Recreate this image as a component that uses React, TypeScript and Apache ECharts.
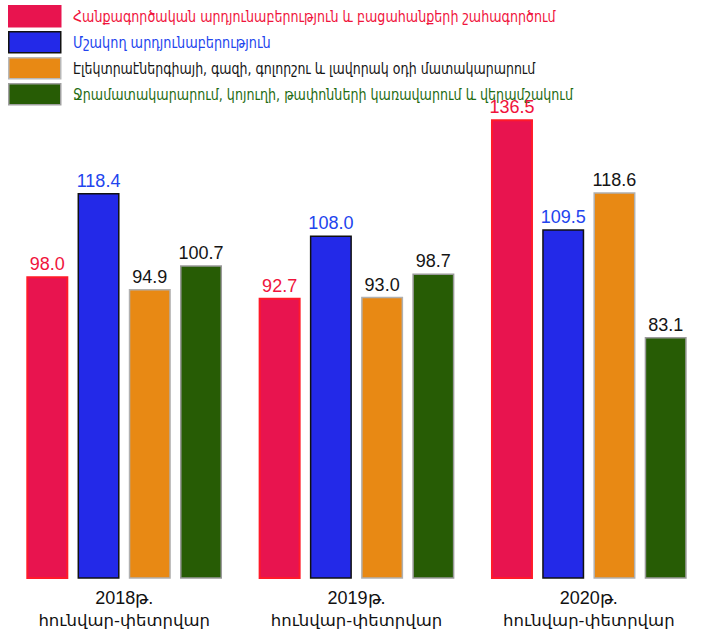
import React, { useEffect, useRef } from "react";
import * as echarts from "echarts";

const categories = ["2018թ.", "2019թ.", "2020թ."];
const periodLabel = "հունվար-փետրվար";

const seriesNames = [
  "Հանքագործական արդյունաբերություն և բացահանքերի շահագործում",
  "Մշակող արդյունաբերություն",
  "Էլեկտրաէներգիայի, գազի, գոլորշու և լավորակ օդի մատակարարում",
  "Ջրամատակարարում, կոյուղի, թափոնների կառավարում և վերամշակում",
];

const miningValues = [98.0, 92.7, 136.5];
const manufacturingValues = [118.4, 108.0, 109.5];
const electricityValues = [94.9, 93.0, 118.6];
const waterValues = [100.7, 98.7, 83.1];

const seriesValues = [miningValues, manufacturingValues, electricityValues, waterValues];

const fills = ["#E8144F", "#2329E8", "#E88914", "#275C05"];
const borders = ["#FF1A2A", "#111111", "#B0B0B0", "#9A9A9A"];
const legendBorders = ["#E8144F", "#111111", "#B8B8B8", "#A0A0A0"];
const labelColors = ["#F0143C", "#2244EE", "#151515", "#151515"];
const legendColors = ["#F0143C", "#2244EE", "#151515", "#1E6B12"];

// legend layout (target text widths)
const legendTextWidths = [483, 198, 463, 500];

const NUM_FONT = '"Liberation Sans", Arial, sans-serif';
const ARM_FONT = '"DejaVu Sans", sans-serif';
const LEGEND_FONT = "16px " + ARM_FONT;

function measure(text: string, font: string): number {
  const c = document.createElement("canvas").getContext("2d")!;
  c.font = font;
  return c.measureText(text).width;
}

export default function App() {
  const ref = useRef<HTMLDivElement>(null);
  useEffect(() => {
    document.body.style.margin = "0";
    const chart = echarts.init(ref.current!, null, { renderer: "svg" });
    const legendGraphics: any[] = [];
    seriesNames.forEach((name, i) => {
      const top = 5 + i * 26;
      legendGraphics.push({
        type: "rect",
        left: 8,
        top,
        shape: { width: 52, height: 21 },
        style: { fill: fills[i], stroke: legendBorders[i], lineWidth: 1.5 },
      });
      const w = measure(name, LEGEND_FONT);
      legendGraphics.push({
        type: "text",
        x: 73,
        y: top + 11,
        scaleX: legendTextWidths[i] / w,
        style: {
          text: name,
          fill: legendColors[i],
          font: LEGEND_FONT,
          verticalAlign: "middle",
        },
      });
    });
    chart.setOption({
      animation: false,
      backgroundColor: "#ffffff",
      graphic: legendGraphics,
      legend: { show: false },
      grid: { left: 8, width: 706, top: 105, bottom: 54 },
      xAxis: {
        type: "category",
        data: categories,
        axisLine: { show: false },
        axisTick: { show: false },
        axisLabel: {
          color: "#111111",
          margin: 9,
          formatter: (v: string) => "{a|" + v + "}\n{b|" + periodLabel + "}",
          rich: {
            a: { fontSize: 18, fontFamily: NUM_FONT, lineHeight: 22, color: "#111111" },
            b: { fontSize: 16.5, fontFamily: ARM_FONT, lineHeight: 22, color: "#111111" },
          },
        },
      },
      yAxis: {
        type: "value",
        min: 24,
        max: 140,
        show: false,
        splitLine: { show: false },
      },
      series: seriesNames.map((name, i) => ({
        name,
        type: "bar",
        barWidth: 42,
        barGap: "22%",
        data: seriesValues[i],
        itemStyle: {
          color: fills[i],
          borderColor: borders[i],
          borderWidth: i === 0 ? 2 : 1.5,
        },
        label: {
          show: true,
          position: "top",
          distance: 3,
          color: labelColors[i],
          fontSize: 18,
          fontFamily: NUM_FONT,
          formatter: (p: any) => Number(p.value).toFixed(1),
        },
      })),
    });
    return () => chart.dispose();
  }, []);
  return (
    <div
      ref={ref}
      style={{ position: "absolute", left: 0, top: 0, width: 705, height: 632 }}
    />
  );
}
